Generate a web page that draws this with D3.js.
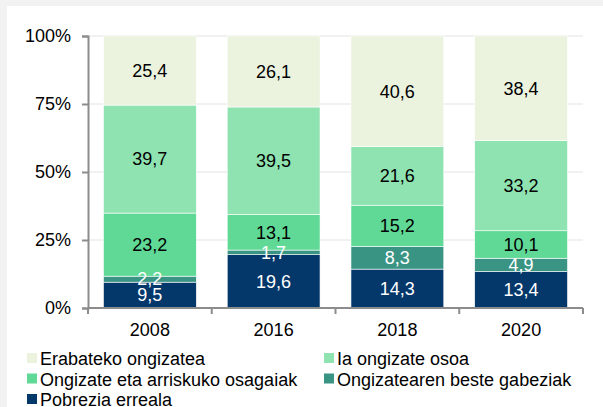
<!DOCTYPE html>
<html>
<head>
<meta charset="utf-8">
<script src="https://cdn.jsdelivr.net/npm/d3@7"></script>
<style>
  body { margin: 0; background: #f2f2f2; }
  svg { display: block; }
  text { font-family: "Liberation Sans", Arial, sans-serif; }
</style>
</head>
<body>
<svg id="chart" width="603" height="407"></svg>
<script>
// Chart data
const years = ["2008", "2016", "2018", "2020"];
const seriesNames = ["Pobrezia erreala", "Ongizatearen beste gabeziak", "Ongizate eta arriskuko osagaiak", "Ia ongizate osoa", "Erabateko ongizatea"];
const pobrezia = [9.5, 19.6, 14.3, 13.4];
const besteGabeziak = [2.2, 1.7, 8.3, 4.9];
const arriskuko = [23.2, 13.1, 15.2, 10.1];
const iaOsoa = [39.7, 39.5, 21.6, 33.2];
const erabateko = [25.4, 26.1, 40.6, 38.4];
const yTicks = [0, 25, 50, 75, 100];

const colors = ["#04376a", "#3a9483", "#5fd995", "#8fe3b1", "#ebf3df"];
const labelColors = ["#ffffff", "#ffffff", "#000000", "#000000", "#000000"];

const allSeries = [pobrezia, besteGabeziak, arriskuko, iaOsoa, erabateko];

let fontSize = 18;
let svg = d3.select("#chart");

// white chart area
svg.append("rect")
    .attr("x", 7).attr("y", 6)
    .attr("width", 596).attr("height", 401)
    .attr("fill", "#ffffff");

let mLeft = 88, mRight = 583, mTop = 36, mBottom = 308;

let xScale = d3.scaleBand()
    .domain(years)
    .range([mLeft, mRight])
    .paddingInner(0.25)
    .paddingOuter(0.125);

let yScale = d3.scaleLinear()
    .domain([0, 100])
    .range([mBottom, mTop]);

// Gridlines
svg.append("g")
    .selectAll("line")
    .data(yTicks.filter(d => d > 0))
    .enter()
    .append("line")
    .attr("x1", mLeft).attr("x2", mRight)
    .attr("y1", d => yScale(d)).attr("y2", d => yScale(d))
    .attr("stroke", "#ececec")
    .attr("stroke-width", 1.5);

// Stack the data
let rows = years.map((y, i) => {
    let r = { year: y, idx: i };
    seriesNames.forEach((s, j) => r[s] = allSeries[j][i]);
    return r;
});
let stacked = d3.stack().keys(seriesNames)(rows);

let groups = svg.append("g")
    .selectAll("g")
    .data(stacked)
    .enter()
    .append("g")
    .attr("fill", (d, i) => colors[i]);

groups.selectAll("rect")
    .data(d => d)
    .enter()
    .append("rect")
    .attr("x", d => xScale(d.data.year))
    .attr("width", xScale.bandwidth())
    .attr("y", d => yScale(d[1]))
    .attr("height", d => yScale(d[0]) - yScale(d[1]))
    .attr("stroke", "#ffffff")
    .attr("stroke-width", 0.6);

// Value labels
stacked.forEach((layer, i) => {
    svg.append("g")
        .selectAll("text")
        .data(layer)
        .enter()
        .append("text")
        .attr("x", d => xScale(d.data.year) + xScale.bandwidth() / 2)
        .attr("y", d => yScale((d[0] + d[1]) / 2))
        .attr("dy", "0.35em")
        .attr("text-anchor", "middle")
        .attr("font-size", fontSize)
        .attr("fill", labelColors[i])
        .text(d => String(allSeries[i][d.data.idx]).replace(".", ","));
});

// Y axis
let yAxis = svg.append("g")
    .attr("transform", `translate(${mLeft},0)`)
    .call(d3.axisLeft(yScale).tickValues(yTicks).tickFormat(d => d + "%").tickSizeOuter(0).tickSize(6));
yAxis.select(".domain").attr("stroke", "#8c8c8c").attr("stroke-width", 2);
yAxis.selectAll(".tick line").attr("stroke", "#8c8c8c").attr("stroke-width", 2);
yAxis.selectAll(".tick text")
    .attr("font-size", fontSize)
    .attr("font-family", "Liberation Sans, Arial, sans-serif")
    .attr("fill", "#000")
    .attr("x", -17);

// X axis with ticks at category boundaries
let xAxis = svg.append("g")
    .attr("transform", `translate(0,${mBottom})`);
xAxis.append("line")
    .attr("x1", mLeft).attr("x2", mRight)
    .attr("stroke", "#8c8c8c").attr("stroke-width", 2);
let step = xScale.step();
let boundaries = d3.range(years.length + 1).map(i => mLeft + i * step);
xAxis.selectAll(".bt")
    .data(boundaries)
    .enter()
    .append("line")
    .attr("x1", d => d).attr("x2", d => d)
    .attr("y1", 0).attr("y2", 6)
    .attr("stroke", "#8c8c8c").attr("stroke-width", 2);
xAxis.selectAll(".xl")
    .data(years)
    .enter()
    .append("text")
    .attr("x", d => xScale(d) + xScale.bandwidth() / 2)
    .attr("y", 28)
    .attr("text-anchor", "middle")
    .attr("font-size", fontSize)
    .attr("fill", "#000")
    .text(d => d);

// Legend
let legendOrder = [4, 3, 2, 1, 0];
let legend = svg.append("g");
legendOrder.forEach((si, k) => {
    let col = k % 2, row = Math.floor(k / 2);
    let lx = col === 0 ? 27 : 324;
    let ly = 358 + row * 20.5;
    legend.append("rect")
        .attr("x", lx).attr("y", ly - 5)
        .attr("width", 10).attr("height", 10)
        .attr("fill", colors[si]);
    legend.append("text")
        .attr("x", lx + 13).attr("y", ly + 1)
        .attr("dy", "0.35em")
        .attr("font-size", fontSize)
        .attr("fill", "#000")
        .text(seriesNames[si]);
});
</script>
</body>
</html>
